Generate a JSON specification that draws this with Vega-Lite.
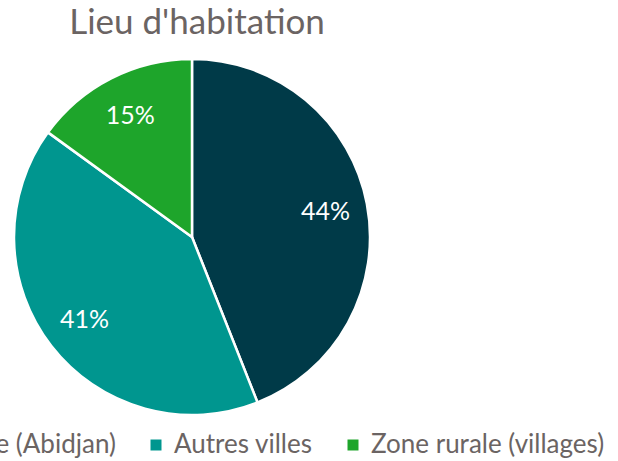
{
  "$schema": "https://vega.github.io/schema/vega-lite/v6.json",
  "width": 384,
  "height": 448,
  "autosize": {"type": "none"},
  "padding": {"left": 0, "top": 13, "right": 234, "bottom": 0},
  "background": "white",
  "title": {
    "text": "Lieu d'habitation",
    "font": "Lato",
    "fontSize": 35,
    "fontWeight": "normal",
    "color": "#6B6463",
    "anchor": "middle",
    "dx": 5,
    "dy": 60,
    "baseline": "alphabetic"
  },
  "data": {
    "values": [
      {"lieu": "Capitale (Abidjan)", "pct": 44, "label": "44%", "ord": 1},
      {"lieu": "Autres villes", "pct": 41, "label": "41%", "ord": 2},
      {"lieu": "Zone rurale (villages)", "pct": 15, "label": "15%", "ord": 3}
    ]
  },
  "encoding": {
    "theta": {"field": "pct", "type": "quantitative", "stack": true},
    "order": {"field": "ord", "type": "quantitative"}
  },
  "layer": [
    {
      "mark": {"type": "arc", "outerRadius": 178, "stroke": "white", "strokeWidth": 2.5},
      "encoding": {
        "color": {
          "field": "lieu",
          "type": "nominal",
          "scale": {
            "domain": ["Capitale (Abidjan)", "Autres villes", "Zone rurale (villages)"],
            "range": ["#003A48", "#00968F", "#1EA52B"]
          },
          "legend": {
            "orient": "none",
            "direction": "horizontal",
            "legendX": -115,
            "legendY": 419,
            "title": null,
            "symbolType": "square",
            "symbolSize": 121,
            "symbolStrokeWidth": 0,
            "labelFont": "Lato",
            "labelFontSize": 26,
            "labelColor": "#6B6463",
            "labelOffset": 5,
            "columnPadding": 27,
            "labelLimit": 400
          }
        }
      }
    },
    {
      "mark": {"type": "text", "radius": 136, "font": "Lato", "fontSize": 25, "color": "white"},
      "encoding": {"text": {"field": "label", "type": "nominal"}}
    }
  ]
}
